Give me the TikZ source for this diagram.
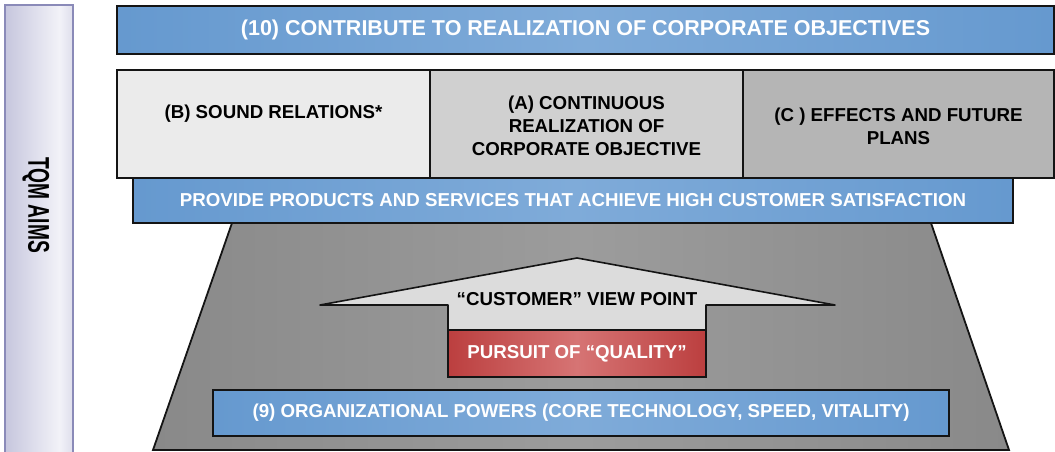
\documentclass[tikz,border=0pt]{standalone}
\usepackage{fontspec}
\setmainfont{Liberation Sans}
\usepackage{graphicx}
\definecolor{bluedark}{HTML}{4C87C5}
\definecolor{bluelight}{HTML}{7FABD9}
\definecolor{reddark}{HTML}{A10A0A}
\definecolor{redlight}{HTML}{D67474}
\definecolor{graydark}{HTML}{767676}
\definecolor{graylight}{HTML}{9C9C9C}
\definecolor{lavdark}{HTML}{ABABCD}
\definecolor{lavlight}{HTML}{F2F2F8}
\definecolor{lavborder}{HTML}{8A8AB8}
\definecolor{boxB}{HTML}{EBEBEB}
\definecolor{boxA}{HTML}{D0D0D0}
\definecolor{boxC}{HTML}{B5B5B5}
\definecolor{arrowfill}{HTML}{DCDCDC}
\definecolor{edge}{HTML}{141414}
\pgfdeclarehorizontalshading{blueshade}{100bp}{color(0bp)=(bluedark); color(50bp)=(bluelight); color(100bp)=(bluedark)}
\pgfdeclarehorizontalshading{redshade}{100bp}{color(0bp)=(reddark); color(50bp)=(redlight); color(100bp)=(reddark)}
\pgfdeclarehorizontalshading{grayshade}{100bp}{color(0bp)=(graydark); color(50bp)=(graylight); color(100bp)=(graydark)}
\pgfdeclarehorizontalshading{lavshade}{100bp}{color(0bp)=(lavdark); color(65bp)=(lavlight); color(100bp)=(lavdark)}
\tikzset{
  bar/.style={draw=edge, line width=1.8pt, shading=blueshade, text=white,
    font=\fontsize{18.7}{22}\selectfont\bfseries, inner sep=0pt},
  cell/.style={draw=edge, line width=1.8pt, inner sep=0pt, minimum height=108pt},
  celltext/.style={text=black, font=\fontsize{18.7}{23}\selectfont\bfseries, align=center, inner sep=0pt},
}
\begin{document}
\begin{tikzpicture}[x=1pt,y=-1pt]
\useasboundingbox (0,0) rectangle (1055,452);
\begin{scope}
\clip (0,0) rectangle (1055,452);
% left bar
\node[draw=lavborder, line width=1.5pt, shading=lavshade, minimum width=68pt, minimum height=470pt, inner sep=0pt] (aimsbar) at (39,240) {};
\end{scope}
\node[rotate=-90, font=\fontsize{30}{30}\selectfont\bfseries, inner sep=0pt] (aims) at (36,205) {\scalebox{0.64}[1]{TQM AIMS}};
% top bar
\node[bar, minimum width=937pt, minimum height=48pt, font=\fontsize{21.5}{24}\selectfont\bfseries] (top) at (585.5,30) {(10) CONTRIBUTE TO REALIZATION OF CORPORATE OBJECTIVES};
% three cells
\node[cell, fill=boxB, minimum width=313pt] (cellB) at (273.5,124) {};
\node[cell, fill=boxA, minimum width=313pt] (cellA) at (586.5,124) {};
\node[cell, fill=boxC, minimum width=311pt] (cellC) at (898.5,124) {};
\node[celltext] (txtB) at (273.5,114) {(B) SOUND RELATIONS*};
\node[celltext] (txtA) at (586.5,126) {(A) CONTINUOUS\\REALIZATION OF\\CORPORATE OBJECTIVE};
\node[celltext] (txtC) at (898.5,126) {(C ) EFFECTS AND FUTURE\\PLANS};
% trapezoid
\path[draw=edge, line width=1.8pt, shading=grayshade] (232,223) coordinate (tl) -- (931,223) coordinate (tr) -- (1009,450) coordinate (br) -- (153,450) coordinate (bl) -- cycle;
% provide bar
\node[bar, minimum width=880pt, minimum height=45pt] (provide) at (573,200.5) {PROVIDE PRODUCTS AND SERVICES THAT ACHIEVE HIGH CUSTOMER SATISFACTION};
% arrow
\path[draw=edge, line width=1.6pt, fill=arrowfill, line join=round] (577,258) -- (835,305) -- (706,305) -- (706,330) -- (448,330) -- (448,305) -- (320,305) -- cycle;
\node[celltext] (view) at (577,299) {“CUSTOMER” VIEW POINT};
% red box
\node[draw=edge, line width=1.8pt, shading=redshade, minimum width=258pt, minimum height=47pt, inner sep=0pt, text=white, font=\fontsize{18.7}{22}\selectfont\bfseries] (quality) at (577,353.5) {PURSUIT OF “QUALITY”};
% bottom bar
\node[bar, minimum width=736pt, minimum height=46pt] (powers) at (581,413) {(9) ORGANIZATIONAL POWERS (CORE TECHNOLOGY, SPEED, VITALITY)};
\end{tikzpicture}
\end{document}
